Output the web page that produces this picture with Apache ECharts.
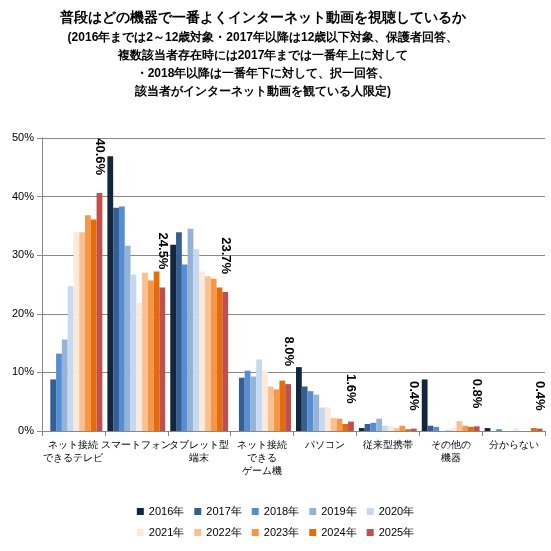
<!DOCTYPE html>
<html><head><meta charset="utf-8">
<script src="https://cdn.jsdelivr.net/npm/echarts@6/dist/echarts.min.js"></script>
<style>html,body{margin:0;padding:0;background:#fff}#c{width:551px;height:551px}</style>
</head><body><div id="c"></div>
<script>
var categories = ['ネット接続\nできるテレビ', 'スマートフォン', 'タブレット型\n端末', 'ネット接続\nできる\nゲーム機', 'パソコン', '従来型携帯', 'その他の\n機器', '分からない'];
var years = ['2016年', '2017年', '2018年', '2019年', '2020年', '2021年', '2022年', '2023年', '2024年', '2025年'];
var colors = ['#12263f', '#365f91', '#558ed5', '#95b3d7', '#c6d9f1', '#fde9d9', '#fac090', '#f79646', '#e46c0a', '#c0504d'];
var y2016 = [null, 46.9, 31.8, null, 10.9, 0.5, 8.8, 0.5];
var y2017 = [8.8, 38.1, 33.9, 9.1, 7.6, 1.2, 0.9, 0];
var y2018 = [13.2, 38.3, 28.4, 10.3, 6.8, 1.4, 0.7, 0.3];
var y2019 = [15.6, 31.6, 34.5, 9.3, 6.2, 2.1, 0, 0];
var y2020 = [24.7, 26.7, 31.0, 12.2, 4.0, 0.9, 0.2, 0];
var y2021 = [33.9, 21.9, 27.2, 10.3, 4.0, 0.9, 0.5, 0.5];
var y2022 = [33.9, 27.0, 26.4, 7.6, 2.2, 0.5, 1.7, 0];
var y2023 = [36.8, 25.7, 26.0, 7.1, 2.1, 0.9, 0.9, 0];
var y2024 = [36.1, 27.2, 24.5, 8.6, 1.2, 0.3, 0.7, 0.5];
var y2025 = [40.6, 24.5, 23.7, 8.0, 1.6, 0.4, 0.8, 0.4];
var values = [y2016, y2017, y2018, y2019, y2020, y2021, y2022, y2023, y2024, y2025];

var chart = echarts.init(document.getElementById('c'));
var series = years.map(function (y, i) {
  var s = {
    name: y, type: 'bar', data: values[i], barGap: '0%', barCategoryGap: '8%',
    itemStyle: { color: colors[i] }
  };
  if (i === 9) {
    s.label = {
      show: true, position: 'top', rotate: -90, align: 'right', verticalAlign: 'middle',
      offset: [-14, 0], distance: 4,
      fontSize: 13, fontWeight: 'bold', color: '#000',
      formatter: function (p) { return p.value.toFixed(1) + '%'; }
    };
  }
  return s;
});

chart.setOption({
  animation: false,
  color: colors,
  title: {
    text: '普段はどの機器で一番よくインターネット動画を視聴しているか',
    subtext: '(2016年までは2～12歳対象・2017年以降は12歳以下対象、保護者回答、\n複数該当者存在時には2017年までは一番年上に対して\n・2018年以降は一番年下に対して、択一回答、\n該当者がインターネット動画を観ている人限定)',
    left: 258, top: 6, textAlign: 'center', itemGap: 4,
    textStyle: { fontSize: 14, fontWeight: 'bold', color: '#000' },
    subtextStyle: { fontSize: 12, fontWeight: 'bold', color: '#000', lineHeight: 18, align: 'center' }
  },
  legend: {
    bottom: 8, left: 'center', width: 330, itemWidth: 7, itemHeight: 7, itemGap: 10,
    textStyle: { fontSize: 11, color: '#000' }, icon: 'rect'
  },
  grid: { left: 42, right: 6, top: 138, bottom: 120 },
  xAxis: {
    type: 'category', data: categories,
    axisLine: { lineStyle: { color: '#888' } },
    axisTick: { show: true, lineStyle: { color: '#888' } },
    axisLabel: { interval: 0, fontSize: 10, color: '#000', lineHeight: 13 }
  },
  yAxis: {
    type: 'value', min: 0, max: 50, interval: 10,
    axisLabel: { formatter: '{value}%', fontSize: 11, color: '#000' },
    axisLine: { show: true, lineStyle: { color: '#888' } },
    axisTick: { show: true, lineStyle: { color: '#888' } },
    splitLine: { lineStyle: { color: '#888' } }
  },
  series: series
});
</script></body></html>
